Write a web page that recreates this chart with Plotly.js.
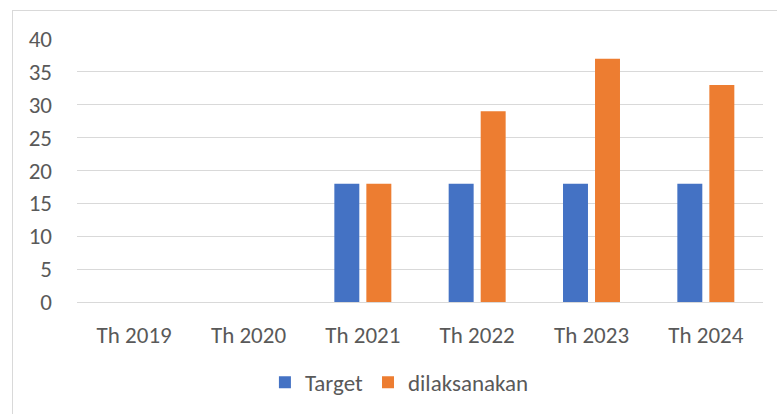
<!DOCTYPE html>
<html>
<head>
<meta charset="utf-8">
<script src="https://cdn.plot.ly/plotly-3.0.1.min.js"></script>
<style>
  html, body { margin: 0; padding: 0; background: #ffffff; }
  #frame { position: absolute; left: 12px; top: 10px; width: 800px; height: 500px;
           border: 1px solid #d9d9d9; box-sizing: border-box; }
  #chart { position: absolute; left: 0; top: 0; width: 777px; height: 414px; }
</style>
</head>
<body>
<div id="frame"></div>
<div id="chart"></div>
<script>
// chart data
const categories = ['Th 2019', 'Th 2020', 'Th 2021', 'Th 2022', 'Th 2023', 'Th 2024'];
const targetValues = [0, 0, 18, 18, 18, 18];
const doneValues = [0, 0, 18, 29, 37, 33];
const yTicks = [0, 5, 10, 15, 20, 25, 30, 35, 40];

const textColor = '#595959';
const gridColor = '#d9d9d9';
const fontFamily = 'Carlito, Calibri, "Open Sans", sans-serif';

const data = [
  {
    x: categories,
    y: targetValues,
    type: 'bar',
    name: 'Target',
    marker: { color: '#4472c4' },
    hoverinfo: 'skip'
  },
  {
    x: categories,
    y: doneValues,
    type: 'bar',
    name: 'dilaksanakan',
    marker: { color: '#ed7d31' },
    hoverinfo: 'skip'
  }
];

const layout = {
  width: 777,
  height: 414,
  paper_bgcolor: 'rgba(0,0,0,0)',
  plot_bgcolor: 'rgba(0,0,0,0)',
  font: { family: fontFamily, size: 23, color: textColor },
  margin: { l: 77, r: 14, t: 39, b: 111 },
  barmode: 'group',
  bargap: 0.44,
  bargroupgap: 0.22,
  showlegend: true,
  legend: {
    orientation: 'h',
    x: 0.47,
    xanchor: 'center',
    y: -0.3,
    yanchor: 'middle',
    font: { size: 23, color: textColor },
    itemwidth: 30,
    tracegroupgap: 0
  },
  xaxis: {
    type: 'category',
    showgrid: false,
    showline: false,
    zeroline: false,
    ticks: '',
    ticklabelstandoff: 17,
    tickfont: { size: 23, color: textColor }
  },
  yaxis: {
    range: [0, 40],
    tickvals: yTicks,
    showgrid: true,
    gridcolor: gridColor,
    gridwidth: 1,
    zeroline: true,
    zerolinecolor: gridColor,
    zerolinewidth: 1,
    showline: false,
    ticks: '',
    ticklabelstandoff: 24,
    tickfont: { size: 23, color: textColor }
  }
};

Plotly.newPlot('chart', data, layout, { staticPlot: true, displayModeBar: false });
</script>
</body>
</html>
